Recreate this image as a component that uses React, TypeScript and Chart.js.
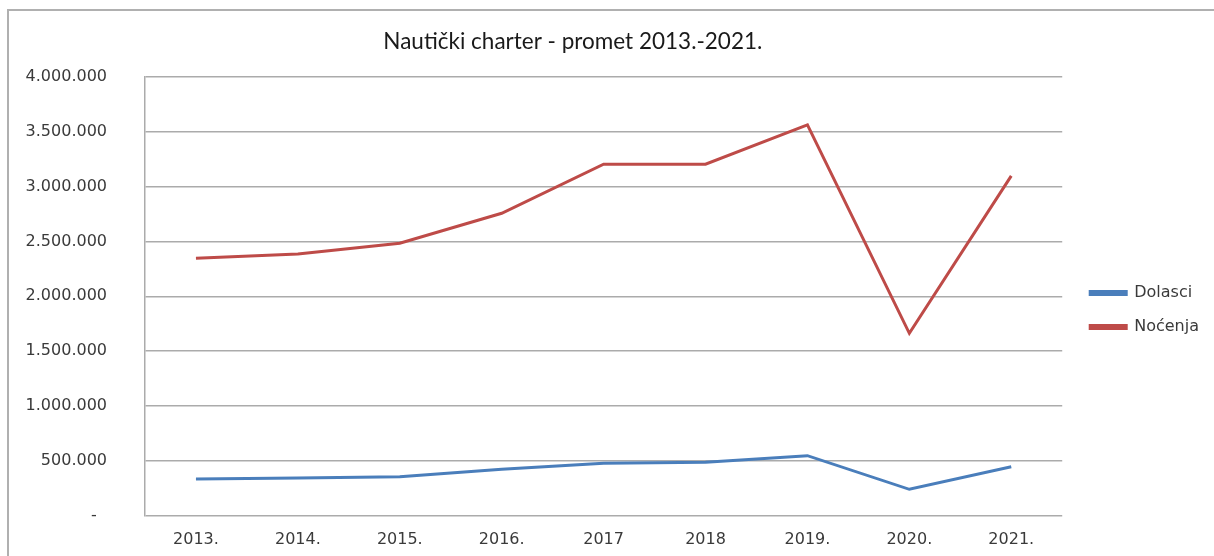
import React, { useEffect, useRef } from "react";
import { Chart, registerables } from "chart.js";

Chart.register(...registerables);

const TITLE = "Nautički charter - promet 2013.-2021.";
const CATEGORIES = ["2013.", "2014.", "2015.", "2016.", "2017", "2018", "2019.", "2020.", "2021."];
const DOLASCI = [333000, 342000, 354000, 421000, 476000, 485000, 546000, 239000, 445000];
const NOCENJA = [2347000, 2386000, 2483000, 2757000, 3204000, 3204000, 3563000, 1662000, 3098000];
const SERIES_NAMES = ["Dolasci", "Noćenja"];
const Y_MIN = 0;
const Y_MAX = 4000000;
const Y_STEP = 500000;

const BLUE = "#4a7ebb";
const RED = "#be4b48";
const GRID = "#ababab";
const TEXT = "#3a3a3a";

function fmt(v: number): string {
  if (v === 0) return "-  ";
  return String(Math.round(v)).replace(/\B(?=(\d{3})+(?!\d))/g, ".");
}

export default function App() {
  const ref = useRef<HTMLCanvasElement | null>(null);

  useEffect(() => {
    if (!ref.current) return;
    const chart = new Chart(ref.current, {
      type: "line",
      data: {
        labels: CATEGORIES,
        datasets: [
          {
            label: SERIES_NAMES[0],
            data: DOLASCI,
            borderColor: BLUE,
            backgroundColor: BLUE,
            borderWidth: 3,
            pointRadius: 0,
            tension: 0,
          },
          {
            label: SERIES_NAMES[1],
            data: NOCENJA,
            borderColor: RED,
            backgroundColor: RED,
            borderWidth: 3,
            pointRadius: 0,
            tension: 0,
          },
        ],
      },
      options: {
        responsive: false,
        animation: false,
        layout: { padding: { left: 0, right: 5, top: 0, bottom: 0 } },
        plugins: {
          title: {
            display: true,
            text: TITLE + "           ",
            color: "#1a1a1a",
            font: { family: "Lato", size: 22.5, weight: "normal" },
            padding: { top: 28, bottom: 22 },
          },
          legend: {
            display: true,
            position: "right",
            align: "center",
            title: {
              display: true,
              text: " ",
              font: { family: "DejaVu Sans", size: 16 },
              padding: { top: 10, bottom: 35 },
            },
            labels: {
              boxWidth: 36,
              boxHeight: 3,
              padding: 18,
              color: TEXT,
              font: { family: "DejaVu Sans", size: 16 },
            },
          },
          tooltip: { enabled: false },
        },
        scales: {
          x: {
            offset: true,
            grid: { display: false, drawTicks: false },
            border: { display: false },
            ticks: {
              color: TEXT,
              font: { family: "DejaVu Sans", size: 16 },
              padding: 15,
              maxRotation: 0,
            },
            afterFit: (s: any) => {
              s.height = 40.5;
            },
          },
          y: {
            min: Y_MIN,
            max: Y_MAX,
            grid: {
              color: GRID,
              lineWidth: 1.5,
              drawTicks: true,
              tickLength: 30,
              tickColor: "rgba(0,0,0,0)",
            },
            border: { display: true, color: GRID, width: 1.5 },
            ticks: {
              stepSize: Y_STEP,
              color: TEXT,
              font: { family: "DejaVu Sans", size: 16 },
              padding: 8,
              callback: (v: any) => fmt(Number(v)),
            },
            afterFit: (s: any) => {
              s.width = 145;
            },
          },
          spacer: {
            type: "linear",
            position: "right",
            display: true,
            grid: { display: false, drawTicks: false },
            border: { display: false },
            ticks: { display: false },
            afterFit: (s: any) => {
              s.width = 10;
            },
          },
        },
      },
    });
    return () => chart.destroy();
  }, []);

  return (
    <div style={{ position: "fixed", left: 0, top: 0, width: 1214, height: 556, background: "#fff" }}>
      <div
        style={{
          position: "absolute",
          left: 7,
          top: 9,
          right: 0,
          bottom: 0,
          borderLeft: "2px solid #b0b0b0",
          borderTop: "2px solid #b0b0b0",
        }}
      />
      <canvas ref={ref} width={1214} height={556} style={{ position: "absolute", left: 0, top: 0, width: 1214, height: 556 }} />
    </div>
  );
}
